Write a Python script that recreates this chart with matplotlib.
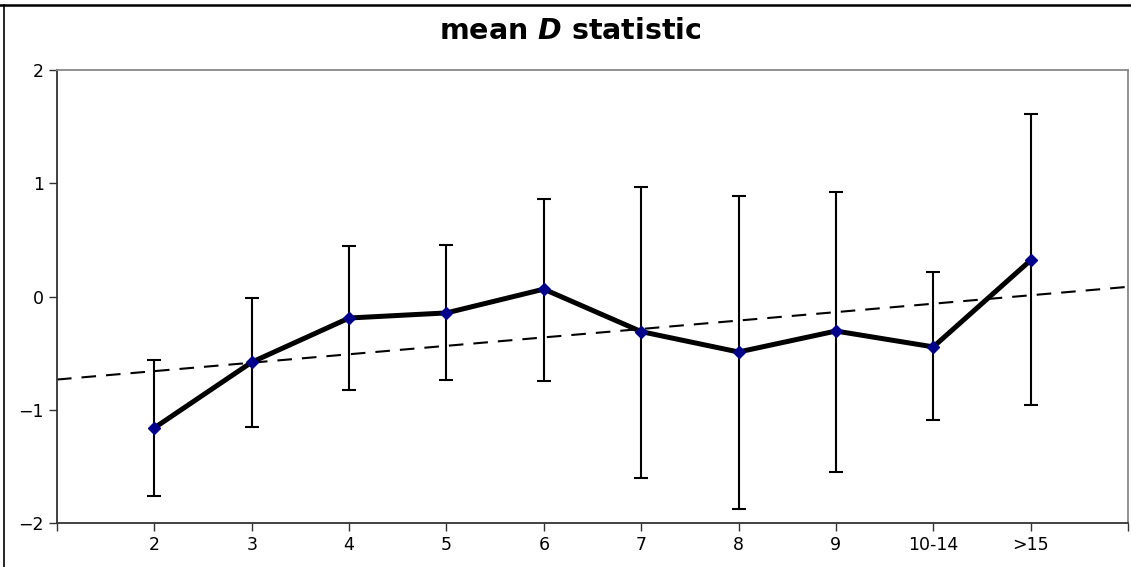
import matplotlib
matplotlib.use("Agg")
import matplotlib.pyplot as plt
from matplotlib.lines import Line2D
import numpy as np

CATEGORIES = ["2", "3", "4", "5", "6", "7", "8", "9", "10-14", ">15"]
MEANS = [-1.16, -0.58, -0.19, -0.145, 0.065, -0.31, -0.49, -0.305, -0.445, 0.32]
UPPER = [-0.56, -0.01, 0.445, 0.455, 0.86, 0.965, 0.885, 0.92, 0.215, 1.61]
LOWER = [-1.76, -1.15, -0.825, -0.735, -0.745, -1.605, -1.875, -1.55, -1.09, -0.955]

x = np.arange(1, len(CATEGORIES) + 1)
means = np.array(MEANS)
yerr = [means - np.array(LOWER), np.array(UPPER) - means]

fig = plt.figure(figsize=(11.31, 5.67), dpi=100)
ax = fig.add_axes([57 / 1131, 44 / 567, (1128 - 57) / 1131, (523 - 70) / 567])

# trend line of the means
slope, icept = np.polyfit(x, means, 1)
xs = np.array([0, len(CATEGORIES) + 1])
ax.plot(xs, icept + slope * xs, "k--", lw=1.5, dashes=(7, 4.8))

ax.errorbar(x, means, yerr=yerr, fmt="none", ecolor="k", elinewidth=1.5,
            capsize=5, capthick=1.5)
ax.plot(x, means, "-", color="k", lw=3.6)
ax.plot(x, means, "D", color="#00008b", markersize=6.5, ls="none")

ax.set_xlim(0, len(CATEGORIES) + 1)
ax.set_ylim(-2, 2)
ax.set_xticks(np.arange(0, len(CATEGORIES) + 2))
ax.set_xticklabels([""] + CATEGORIES + [""])
ax.set_yticks([-2, -1, 0, 1, 2])
ax.tick_params(labelsize=12.5, length=6, width=1, color="#333333")

for s in ["left", "bottom"]:
    ax.spines[s].set_color("#333333")
    ax.spines[s].set_linewidth(1.3)
for s in ["top", "right"]:
    ax.spines[s].set_color("#888888")
    ax.spines[s].set_linewidth(1.3)

fig.text(0.504, 1 - 31 / 567, r"mean $\mathbfit{D}$ statistic", ha="center", va="center",
         fontsize=20.5, fontweight="bold")

# outer frame lines (partially visible)
fig.add_artist(Line2D([0, 1], [1 - 5 / 567] * 2, color="k", lw=1.8, transform=fig.transFigure))
fig.add_artist(Line2D([4 / 1131] * 2, [0, 1 - 5 / 567], color="k", lw=1.2, transform=fig.transFigure))

fig.savefig("out.png", dpi=100)
